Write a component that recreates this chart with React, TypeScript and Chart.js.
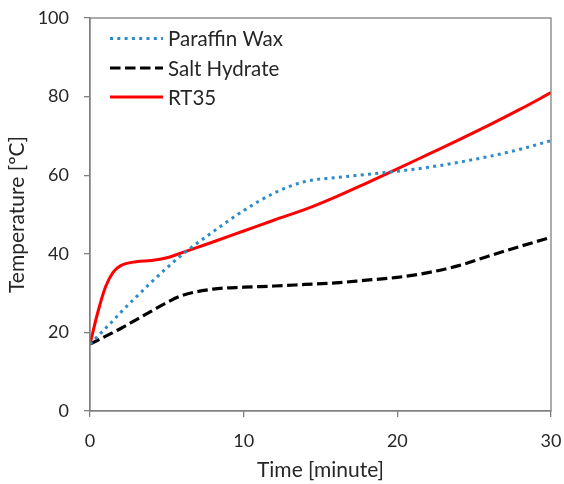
import React, { useEffect, useRef } from "react";
import { Chart, registerables } from "chart.js";

Chart.register(...registerables);

const time = [0, 0.5, 1, 1.5, 2, 3, 4, 5, 6, 8, 10, 12, 14, 16, 18, 20, 22, 24, 26, 28, 30];
const paraffinWax = [17, 19, 21, 23, 25.1, 29, 32.8, 36.4, 39.8, 45.6, 51, 55.5, 58.4, 59.4, 60.2, 61, 62, 63.3, 64.8, 66.6, 68.8];
const saltHydrate = [17, 18, 19, 20, 21, 23.2, 25.4, 27.6, 29.4, 31, 31.5, 31.8, 32.2, 32.6, 33.3, 34, 35.2, 37, 39.5, 41.9, 44.2];
const rt35 = [17, 25, 31.5, 35.3, 37, 38, 38.3, 39, 40.3, 43, 45.8, 48.6, 51.3, 54.5, 58, 61.6, 65.3, 69, 72.8, 76.8, 81];

const seriesNames = ["Paraffin Wax", "Salt Hydrate", "RT35"];
const xTicks = [0, 10, 20, 30];
const yTicks = [0, 20, 40, 60, 80, 100];

const FONT = "Lato, 'Noto Sans', sans-serif";
const AXIS_GRAY = "#808080";
const TEXT = "#262626";

const frameAndLegend = {
  id: "frameAndLegend",
  afterDatasetsDraw(chart: any) {
    const { ctx, chartArea } = chart;
    ctx.save();
    ctx.strokeStyle = AXIS_GRAY;
    ctx.lineWidth = 1.3;
    ctx.setLineDash([]);
    ctx.strokeRect(chartArea.left, chartArea.top, chartArea.right - chartArea.left, chartArea.bottom - chartArea.top);

    const x0 = chartArea.left + 20;
    const len = 53;
    const rowY = [chartArea.top + 20.5, chartArea.top + 50, chartArea.top + 79];
    chart.data.datasets.forEach((ds: any, i: number) => {
      const y = rowY[i];
      ctx.beginPath();
      ctx.strokeStyle = ds.borderColor;
      ctx.lineWidth = ds.borderWidth;
      ctx.setLineDash(ds.borderDash || []);
      ctx.lineCap = ds.borderCapStyle || "butt";
      ctx.moveTo(x0, y);
      ctx.lineTo(x0 + len, y);
      ctx.stroke();
      ctx.setLineDash([]);
      ctx.fillStyle = TEXT;
      ctx.font = `20.5px ${FONT}`;
      ctx.textBaseline = "middle";
      ctx.textAlign = "left";
      ctx.fillText(ds.label, x0 + len + 5, y + 1);
    });
    ctx.restore();
  },
};

export default function App() {
  const ref = useRef<HTMLCanvasElement | null>(null);
  useEffect(() => {
    if (!ref.current) return;
    const mk = (arr: number[]) => time.map((t, i) => ({ x: t, y: arr[i] }));
    const chart = new Chart(ref.current, {
      type: "line",
      data: {
        datasets: [
          {
            label: seriesNames[0],
            data: mk(paraffinWax),
            borderColor: "#2E8BC9",
            borderWidth: 3,
            borderDash: [3, 4.3],
            borderCapStyle: "butt",
            pointRadius: 0,
            cubicInterpolationMode: "monotone",
          },
          {
            label: seriesNames[1],
            data: mk(saltHydrate),
            borderColor: "#000000",
            borderWidth: 3.2,
            borderDash: [10.5, 4.5],
            pointRadius: 0,
            cubicInterpolationMode: "monotone",
          },
          {
            label: seriesNames[2],
            data: mk(rt35),
            borderColor: "#FF0000",
            borderWidth: 3,
            pointRadius: 0,
            cubicInterpolationMode: "monotone",
          },
        ],
      },
      options: {
        animation: false,
        responsive: true,
        maintainAspectRatio: false,
        layout: { padding: { left: 0, right: 13, top: 18, bottom: 0 } },
        plugins: { legend: { display: false }, tooltip: { enabled: false } },
        scales: {
          x: {
            type: "linear",
            min: 0,
            max: 30,
            afterBuildTicks: (s: any) => {
              s.ticks = xTicks.map((v) => ({ value: v }));
            },
            afterFit: (s: any) => {
              s.height = 73;
              s.paddingLeft = 0;
              s.paddingRight = 0;
            },
            grid: { display: true, drawOnChartArea: false, tickLength: 6, color: AXIS_GRAY, lineWidth: 1.3 },
            border: { color: AXIS_GRAY, width: 1.3 },
            ticks: { color: TEXT, font: { family: FONT, size: 18 }, padding: 13, maxRotation: 0 },
            title: {
              display: true,
              text: "Time [minute]",
              color: TEXT,
              font: { family: FONT, size: 21 },
              padding: { top: 0, bottom: 1 },
            },
          },
          y: {
            type: "linear",
            min: 0,
            max: 100,
            afterBuildTicks: (s: any) => {
              s.ticks = yTicks.map((v) => ({ value: v }));
            },
            afterFit: (s: any) => {
              s.width = 90;
              s.paddingTop = 0;
              s.paddingBottom = 0;
            },
            grid: { display: true, drawOnChartArea: false, tickLength: 6, color: AXIS_GRAY, lineWidth: 1.3 },
            border: { color: AXIS_GRAY, width: 1.3 },
            ticks: { color: TEXT, font: { family: FONT, size: 18 }, padding: 15 },
            title: {
              display: true,
              text: "Temperature [ºC]",
              color: TEXT,
              font: { family: FONT, size: 21 },
              padding: { top: 5, bottom: 0 },
            },
          },
        },
      },
      plugins: [frameAndLegend],
    } as any);
    return () => chart.destroy();
  }, []);
  return (
    <div style={{ position: "fixed", left: 0, top: 0, width: 564, height: 484, background: "#fff" }}>
      <canvas ref={ref} />
    </div>
  );
}
